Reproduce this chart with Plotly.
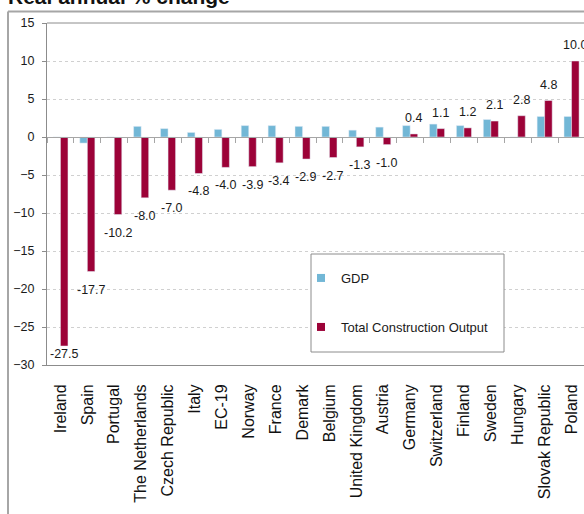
import plotly.graph_objects as go

categories = ["Ireland", "Spain", "Portugal", "The Netherlands", "Czech Republic", "Italy", "EC-19",
              "Norway", "France", "Demark", "Belgium", "United Kingdom", "Austria", "Germany",
              "Switzerland", "Finland", "Sweden", "Hungary", "Slovak Republic", "Poland"]
gdp = [0.0, -0.8, 0.0, 1.4, 1.1, 0.6, 1.0, 1.5, 1.5, 1.4, 1.4, 0.9, 1.3, 1.5, 1.7, 1.5, 2.3, 0.0, 2.7, 2.7]
construction = [-27.5, -17.7, -10.2, -8.0, -7.0, -4.8, -4.0, -3.9, -3.4, -2.9, -2.7, -1.3, -1.0,
                0.4, 1.1, 1.2, 2.1, 2.8, 4.8, 10.0]
y_ticks = [15, 10, 5, 0, -5, -10, -15, -20, -25, -30]
title_text = "Real annual % change"

W, H = 584, 514
ML, MR, MT, MB = 47, 0, 23, 149
PW, PH = W - ML - MR, H - MT - MB
YMIN, YMAX = -30, 15
BARGAP = 0.44
FONT = "Liberation Sans, Arial, sans-serif"
GDP_C = "#72b7d6"
CON_C = "#9c0238"
AX_C = "#8c8c8c"
TXT_C = "#1a1a1a"

ncat = len(categories)
cat_px = 26.9
xmax = -0.5 + PW / cat_px


def px_x(p):
    return (p - ML) / PW


def px_y(p):
    return 1 - (p - MT) / PH


fig = go.Figure()
fig.add_trace(go.Bar(x=categories, y=gdp, marker_color=GDP_C, showlegend=False, name="GDP"))
fig.add_trace(go.Bar(x=categories, y=construction, marker_color=CON_C, showlegend=False,
                     name="Total Construction Output"))
# zero axis carrying tick marks at category boundaries
fig.add_trace(go.Scatter(x=[-5], y=[0], xaxis="x2", mode="markers", marker=dict(opacity=0),
                         showlegend=False, hoverinfo="skip"))
# legend entries
fig.add_trace(go.Scatter(x=[None], y=[None], mode="markers", name="GDP",
                         marker=dict(symbol="square", size=8, color=GDP_C), legend="legend"))
fig.add_trace(go.Scatter(x=[None], y=[None], mode="markers", name="Total Construction Output",
                         marker=dict(symbol="square", size=8, color=CON_C), legend="legend2"))

ppu = PH / (YMAX - YMIN)
off = (1 - BARGAP) / 4
LBL = dict(family=FONT, size=12.5, color=TXT_C)
annotations = []
for i, v in enumerate(construction):
    txt = f"{v:.1f}"
    if v >= 0:
        annotations.append(dict(x=i + off, y=v, xref="x", yref="y", text=txt, showarrow=False,
                                yanchor="bottom", yshift=7, font=LBL))
    else:
        bar_end = (YMAX - v) * ppu
        box_h = 18
        top = bar_end + 9
        if top + box_h > PH - 2:
            top = PH - 2 - box_h
        annotations.append(dict(x=i + off, y=v, xref="x", yref="y", text=txt, showarrow=False,
                                yanchor="top", yshift=-(top - bar_end), font=LBL))

annotations.append(dict(x=px_x(6), y=px_y(10), xref="paper", yref="paper",
                        text="<b>" + title_text + "</b>", showarrow=False,
                        xanchor="left", yanchor="bottom",
                        font=dict(family=FONT, size=21, color="#111111")))

shapes = [
    # outer frame
    dict(type="line", xref="paper", yref="paper", x0=px_x(8), x1=1.0, y0=px_y(11.5), y1=px_y(11.5),
         line=dict(color="#a6a6a6", width=2)),
    dict(type="line", xref="paper", yref="paper", x0=px_x(8), x1=px_x(8), y0=px_y(11.5), y1=px_y(H + 5),
         line=dict(color="#a6a6a6", width=2)),
    # plot top border
    dict(type="line", xref="paper", yref="paper", x0=0, x1=1, y0=1, y1=1,
         line=dict(color=AX_C, width=1)),
    # legend box
    dict(type="rect", xref="paper", yref="paper", x0=px_x(311), x1=px_x(504), y0=px_y(352), y1=px_y(254),
         line=dict(color=AX_C, width=1), fillcolor="white", layer="above"),
]

fig.update_layout(
    width=W, height=H,
    margin=dict(l=ML, r=MR, t=MT, b=MB, pad=0),
    paper_bgcolor="white", plot_bgcolor="white",
    barmode="group", bargap=BARGAP, bargroupgap=0,
    xaxis=dict(type="category", categoryorder="array", categoryarray=categories,
               range=[-0.5, xmax], tickangle=-90, tickfont=dict(family=FONT, size=16, color="#111111"),
               ticks="outside", ticklen=12, tickcolor="rgba(0,0,0,0)",
               showline=True, linecolor=AX_C, linewidth=1, showgrid=False, zeroline=False),
    xaxis2=dict(overlaying="x", anchor="free", position=(0 - YMIN) / (YMAX - YMIN),
                range=[-0.5, xmax], tickmode="array", tickvals=[k - 0.5 for k in range(ncat + 1)],
                ticks="outside", ticklen=5, tickcolor="#a6a6a6", showticklabels=False,
                showline=True, linecolor="#a6a6a6", linewidth=1, showgrid=False, zeroline=False),
    yaxis=dict(range=[YMIN, YMAX], tickmode="array", tickvals=y_ticks, ticks="outside", ticklen=4,
               tickcolor=AX_C, showline=True, linecolor=AX_C, linewidth=1,
               gridcolor="#d0d0d0", griddash="dot", zeroline=False, ticklabelstandoff=5,
               tickfont=dict(family=FONT, size=12.5, color=TXT_C)),
    legend=dict(x=px_x(301), y=px_y(278), xanchor="left", yanchor="middle", bgcolor="rgba(0,0,0,0)",
                font=dict(family=FONT, size=13, color=TXT_C)),
    legend2=dict(x=px_x(301), y=px_y(327), xanchor="left", yanchor="middle", bgcolor="rgba(0,0,0,0)",
                 font=dict(family=FONT, size=13, color=TXT_C)),
    annotations=annotations,
    shapes=shapes,
    showlegend=True,
)

fig.write_html("out.html", config={"displayModeBar": False},
               post_script="document.body.style.margin='0px';")
